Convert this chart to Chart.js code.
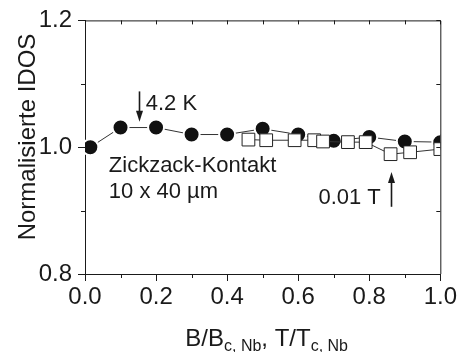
<!DOCTYPE html>
<html>
<head>
<meta charset="utf-8">
<script src="https://cdn.jsdelivr.net/npm/chart.js@4"></script>
<style>
  html, body { margin: 0; padding: 0; background: #fff; }
  #wrap { width: 459px; height: 352px; position: relative; }
</style>
</head>
<body>
<div id="wrap"><canvas id="idosChart"></canvas></div>
<script>
// filled circles: T/Tc sweep
const tempX = [0.015, 0.1, 0.2, 0.3, 0.4, 0.5, 0.6, 0.7, 0.8, 0.9, 1.0];
const tempY = [1.000, 1.031, 1.031, 1.020, 1.020, 1.029, 1.020, 1.010, 1.016, 1.009, 1.008];

// open squares: B/Bc sweep
const fieldX = [0.46, 0.51, 0.59, 0.645, 0.67, 0.74, 0.79, 0.86, 0.915, 1.0];
const fieldY = [1.012, 1.011, 1.011, 1.011, 1.009, 1.008, 1.008, 0.989, 0.992, 0.997];

// tick positions (all) and the ones that get a label
const xTickVals = [0, 0.1, 0.2, 0.3, 0.4, 0.5, 0.6, 0.7, 0.8, 0.9, 1.0];
const xLabelled = [0, 0.2, 0.4, 0.6, 0.8, 1.0];
const yTickVals = [0.8, 0.9, 1.0, 1.1, 1.2];
const yLabelled = [0.8, 1.0, 1.2];

const FONT = '"Liberation Sans", Arial, Helvetica, sans-serif';
const INK = '#1a1a1a';

const has = (arr, v) => arr.some(t => Math.abs(t - v) < 1e-9);

// frame on top/right, short minor ticks, titles and the two arrow notes
const extras = {
  id: 'extras',
  afterDraw(chart) {
    const { ctx, chartArea: a, scales: { x, y } } = chart;
    ctx.save();
    ctx.strokeStyle = INK;
    ctx.lineWidth = 1;

    ctx.beginPath();
    ctx.moveTo(a.left, a.top + 0.5);
    ctx.lineTo(a.right + 0.5, a.top + 0.5);
    ctx.lineTo(a.right + 0.5, a.bottom);
    ctx.stroke();

    ctx.beginPath();
    xTickVals.forEach(v => {
      const px = Math.round(x.getPixelForValue(v)) + 0.5;
      ctx.moveTo(px, a.top); ctx.lineTo(px, a.top + 4);
      if (!has(xLabelled, v)) { ctx.moveTo(px, a.bottom); ctx.lineTo(px, a.bottom + 4); }
    });
    yTickVals.forEach(v => {
      const py = Math.round(y.getPixelForValue(v)) + 0.5;
      ctx.moveTo(a.right, py); ctx.lineTo(a.right - 4, py);
      if (!has(yLabelled, v)) { ctx.moveTo(a.left, py); ctx.lineTo(a.left - 4, py); }
    });
    ctx.stroke();

    ctx.fillStyle = INK;

    // y title
    ctx.save();
    ctx.translate(35, 137);
    ctx.rotate(-Math.PI / 2);
    ctx.font = '24px ' + FONT;
    ctx.textAlign = 'center';
    ctx.textBaseline = 'alphabetic';
    ctx.fillText('Normalisierte IDOS', 0, 0);
    ctx.restore();

    // x title with subscripts
    const parts = [
      ['B/B', 24, 0], ['c, Nb', 16, 5], [',', 24, 0], [' T/T', 24, 0], ['c, Nb', 16, 5]
    ];
    let total = 0;
    parts.forEach(p => { ctx.font = p[1] + 'px ' + FONT; total += ctx.measureText(p[0]).width; });
    let cx = (a.left + a.right) / 2 - total / 2 + 4;
    ctx.textAlign = 'left';
    parts.forEach(p => {
      ctx.font = p[1] + 'px ' + FONT;
      ctx.fillText(p[0], cx, 346 + p[2]);
      cx += ctx.measureText(p[0]).width;
    });

    // notes
    ctx.font = '22px ' + FONT;
    ctx.fillText('4.2 K', x.getPixelForValue(0.171), y.getPixelForValue(1.058));
    ctx.fillText('Zickzack-Kontakt', x.getPixelForValue(0.067), y.getPixelForValue(0.961));
    ctx.fillText('10 x 40 \u00b5m', x.getPixelForValue(0.067), y.getPixelForValue(0.920));
    ctx.fillText('0.01 T', x.getPixelForValue(0.657), y.getPixelForValue(0.911));

    const arrow = (xv, y0, y1) => {
      const px = Math.round(x.getPixelForValue(xv)) + 0.5;
      const p0 = y.getPixelForValue(y0), p1 = y.getPixelForValue(y1);
      const dir = Math.sign(p1 - p0);
      ctx.lineWidth = 1.6;
      ctx.beginPath();
      ctx.moveTo(px, p0); ctx.lineTo(px, p1 - dir * 8);
      ctx.stroke();
      ctx.beginPath();
      ctx.moveTo(px, p1);
      ctx.lineTo(px - 3.5, p1 - dir * 11);
      ctx.lineTo(px + 3.5, p1 - dir * 11);
      ctx.closePath();
      ctx.fill();
    };
    arrow(0.152, 1.088, 1.040);
    arrow(0.86, 0.906, 0.961);

    ctx.restore();
  }
};

new Chart(document.getElementById('idosChart'), {
  type: 'scatter',
  data: {
    datasets: [
      {
        label: 'T/Tc',
        data: tempX.map((v, i) => ({ x: v, y: tempY[i] })),
        showLine: true,
        borderColor: '#333',
        borderWidth: 1,
        pointRadius: 8,
        pointBackgroundColor: '#111',
        pointBorderColor: '#fff',
        pointBorderWidth: 2,
        order: 2
      },
      {
        label: 'B/Bc',
        data: fieldX.map((v, i) => ({ x: v, y: fieldY[i] })),
        showLine: true,
        borderColor: '#333',
        borderWidth: 1,
        pointStyle: 'rect',
        pointRadius: 9,
        pointBackgroundColor: '#fff',
        pointBorderColor: '#222',
        pointBorderWidth: 1,
        order: 1
      }
    ]
  },
  options: {
    responsive: true,
    maintainAspectRatio: false,
    animation: false,
    events: [],
    layout: { padding: { top: 20, right: 18, left: 0, bottom: 0 } },
    plugins: { legend: { display: false }, tooltip: { enabled: false } },
    scales: {
      x: {
        type: 'linear', min: 0, max: 1,
        afterBuildTicks: s => { s.ticks = xTickVals.map(v => ({ value: v })); },
        afterFit: s => { s.height = 78; },
        ticks: {
          autoSkip: false, maxRotation: 0, padding: 2, color: INK,
          font: { family: FONT, size: 24 },
          callback: v => has(xLabelled, v) ? v.toFixed(1) : ''
        },
        grid: {
          drawOnChartArea: false, tickLength: 7,
          tickColor: c => has(xLabelled, c.tick.value) ? INK : 'rgba(0,0,0,0)'
        },
        border: { color: INK, width: 1 }
      },
      y: {
        type: 'linear', min: 0.8, max: 1.2,
        afterBuildTicks: s => { s.ticks = yTickVals.map(v => ({ value: v })); },
        afterFit: s => { s.width = 85; },
        ticks: {
          autoSkip: false, padding: 6, color: INK,
          font: { family: FONT, size: 24 },
          callback: v => has(yLabelled, v) ? v.toFixed(1) : ''
        },
        grid: {
          drawOnChartArea: false, tickLength: 7,
          tickColor: c => has(yLabelled, c.tick.value) ? INK : 'rgba(0,0,0,0)'
        },
        border: { color: INK, width: 1 }
      }
    }
  },
  plugins: [extras]
});
</script>
</body>
</html>
